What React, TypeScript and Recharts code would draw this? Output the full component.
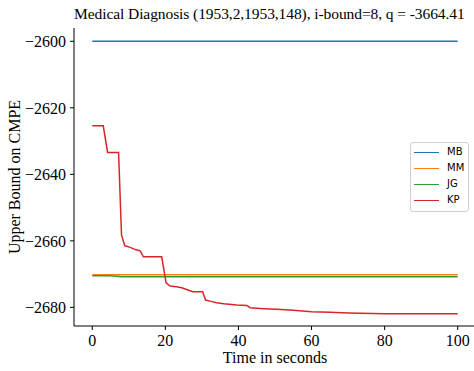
import { LineChart, Line, XAxis, YAxis, Label } from "recharts";

const xTicks = [0, 20, 40, 60, 80, 100];
const yTicks = [-2680, -2660, -2640, -2620, -2600];

const mbData = [
  { t: 0, v: -2600 },
  { t: 100, v: -2600 },
];

const mmData = [
  { t: 0, v: -2670.2 },
  { t: 100, v: -2670.2 },
];

const jgData = [
  { t: 0, v: -2670.5 },
  { t: 5, v: -2670.5 },
  { t: 8, v: -2670.8 },
  { t: 100, v: -2670.8 },
];

const kpTimes = [
  0, 3.0, 4.2, 7.2, 8.0, 8.9, 10.0, 12.0, 13.1, 14.0, 19.0, 20.2, 21.3, 23.0,
  24.5, 26.0, 27.5, 30.2, 31.0, 32.5, 34.0, 36.0, 39.5, 42.3, 43.2, 47, 50.5,
  55, 60, 65, 70, 80, 100,
];
const kpValues = [
  -2625.4, -2625.4, -2633.4, -2633.4, -2658.2, -2661.5, -2661.8, -2662.7,
  -2663.0, -2664.8, -2664.8, -2672.6, -2673.6, -2673.8, -2674.1, -2674.7,
  -2675.3, -2675.3, -2677.8, -2678.2, -2678.6, -2678.9, -2679.3, -2679.4,
  -2680.1, -2680.4, -2680.6, -2680.9, -2681.3, -2681.5, -2681.7, -2681.9,
  -2681.9,
];
const kpData = kpTimes.map((t, i) => ({ t, v: kpValues[i] }));

const series = [
  { name: "MB", color: "#1f77b4", data: mbData },
  { name: "MM", color: "#ff7f0e", data: mmData },
  { name: "JG", color: "#2ca02c", data: jgData },
  { name: "KP", color: "#d62728", data: kpData },
];

const serif = "'Liberation Serif', 'Times New Roman', serif";

function LegendBox() {
  return (
    <div
      style={{
        position: "absolute",
        left: 410,
        top: 142,
        width: 59,
        height: 70,
        boxSizing: "border-box",
        border: "1px solid #d0d0d0",
        borderRadius: 3,
        background: "#fff",
        padding: "1px 0 2px 3px",
        fontFamily: "'DejaVu Sans', sans-serif",
        fontSize: 10,
        lineHeight: "16px",
      }}
    >
      {series.map((s) => (
        <div key={s.name} style={{ display: "flex", alignItems: "center" }}>
          <span
            style={{
              display: "inline-block",
              width: 25,
              height: 0,
              borderTop: `1.5px solid ${s.color}`,
              marginRight: 8,
            }}
          />
          <span>{s.name}</span>
        </div>
      ))}
    </div>
  );
}

export default function App() {
  return (
    <div
      style={{
        position: "absolute",
        left: 0,
        top: 0,
        width: 474,
        height: 371,
        overflow: "hidden",
        background: "#fff",
      }}
    >
      <div
        style={{
          position: "absolute",
          left: 74,
          top: 5,
          fontFamily: serif,
          fontSize: 15.5,
          letterSpacing: -0.08,
          whiteSpace: "nowrap",
        }}
      >
        Medical Diagnosis (1953,2,1953,148), i-bound=8, q = -3664.41
      </div>
      <LineChart
        width={480}
        height={371}
        margin={{ top: 28, right: 4, left: 0, bottom: 0 }}
      >
        <XAxis
          xAxisId="top"
          orientation="top"
          type="number"
          dataKey="t"
          domain={[-5, 105]}
          tick={false}
          tickLine={false}
          height={0}
          stroke="#000"
        />
        <XAxis
          type="number"
          dataKey="t"
          domain={[-5, 105]}
          ticks={xTicks}
          allowDataOverflow
          height={45}
          stroke="#000"
          tickSize={4}
          tickMargin={5}
          tick={{ fill: "#000", fontFamily: serif, fontSize: 16 }}
        >
          <Label
            content={() => (
              <text
                x={275}
                y={363}
                textAnchor="middle"
                fill="#000"
                fontFamily={serif}
                fontSize={16}
              >
                Time in seconds
              </text>
            )}
          />
        </XAxis>
        <YAxis
          type="number"
          domain={[-2685.6, -2596.0]}
          ticks={yTicks}
          allowDataOverflow
          width={74}
          stroke="#000"
          tickSize={4}
          tickMargin={4}
          tickFormatter={(v: number) => String(v).replace("-", "\u2212")}
          tick={{ fill: "#000", fontFamily: serif, fontSize: 16 }}
        >
          <Label
            content={() => (
              <text
                x={20}
                y={177}
                transform="rotate(-90 20 177)"
                textAnchor="middle"
                fill="#000"
                fontFamily={serif}
                fontSize={16}
              >
                Upper Bound on CMPE
              </text>
            )}
          />
        </YAxis>
        {series.map((s) => (
          <Line
            key={s.name}
            data={s.data}
            dataKey="v"
            name={s.name}
            stroke={s.color}
            strokeWidth={1.5}
            dot={false}
            type="linear"
            isAnimationActive={false}
          />
        ))}
      </LineChart>
      <LegendBox />
    </div>
  );
}
